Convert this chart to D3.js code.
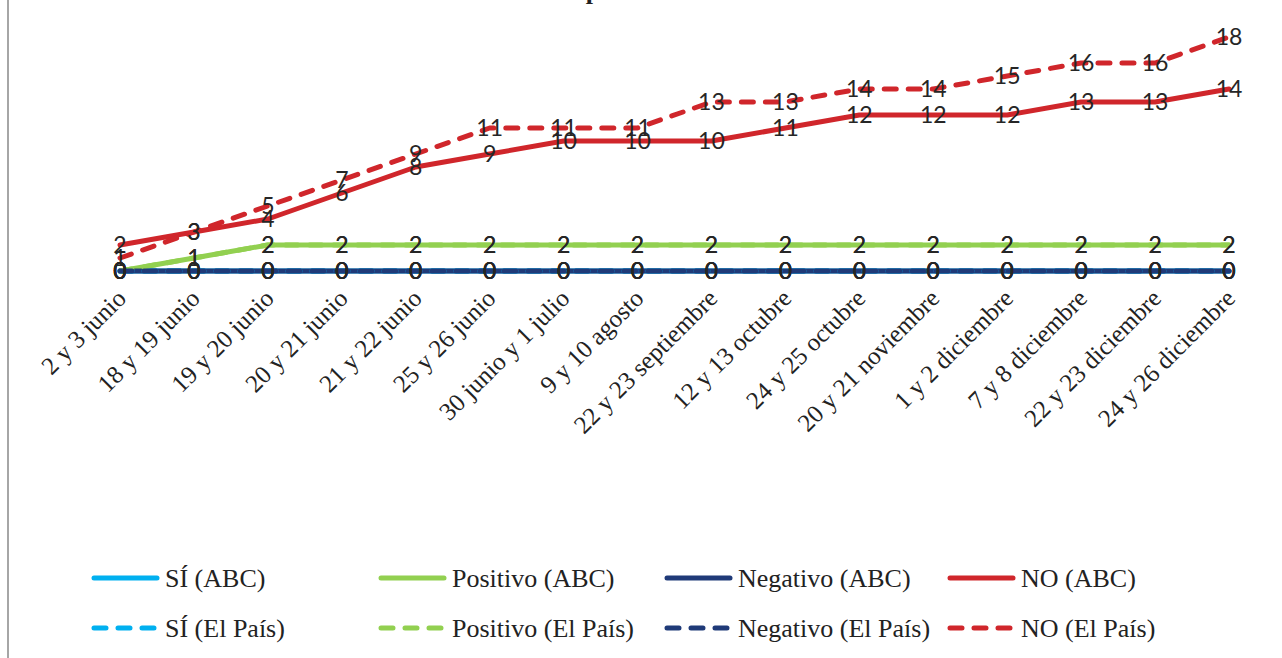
<!DOCTYPE html>
<html><head><meta charset="utf-8">
<script src="https://cdn.jsdelivr.net/npm/d3@7"></script>
<style>html,body{margin:0;padding:0;background:#fff;overflow:hidden}
.serif{font-family:"Liberation Serif","Times New Roman","DejaVu Serif",serif}
</style>
</head><body>
<svg id="chart" width="1282" height="658"></svg>
<script>
const categories = ["2 y 3 junio","18 y 19 junio","19 y 20 junio","20 y 21 junio","21 y 22 junio","25 y 26 junio","30 junio y 1 julio","9 y 10 agosto","22 y 23 septiembre","12 y 13 octubre","24 y 25 octubre","20 y 21 noviembre","1 y 2 diciembre","7 y 8 diciembre","22 y 23 diciembre","24 y 26 diciembre"];
const siABC        = [0,0,0,0,0,0,0,0,0,0,0,0,0,0,0,0];
const positivoABC  = [0,1,2,2,2,2,2,2,2,2,2,2,2,2,2,2];
const negativoABC  = [0,0,0,0,0,0,0,0,0,0,0,0,0,0,0,0];
const noABC        = [2,3,4,6,8,9,10,10,10,11,12,12,12,13,13,14];
const siPais       = [0,0,0,0,0,0,0,0,0,0,0,0,0,0,0,0];
const positivoPais = [0,1,2,2,2,2,2,2,2,2,2,2,2,2,2,2];
const negativoPais = [0,0,0,0,0,0,0,0,0,0,0,0,0,0,0,0];
const noPais       = [1,3,5,7,9,11,11,11,13,13,14,14,15,16,16,18];
const seriesNames  = ["SÍ (ABC)","Positivo (ABC)","Negativo (ABC)","NO (ABC)","SÍ (El País)","Positivo (El País)","Negativo (El País)","NO (El País)"];
const seriesValues = [siABC,positivoABC,negativoABC,noABC,siPais,positivoPais,negativoPais,noPais];
const seriesColors = ["#00b0f0","#92d050","#1f3a78","#d0262b","#00b0f0","#92d050","#1f3a78","#d0262b"];
const seriesDashed = [false,false,false,false,true,true,true,true];
const titleText = "p";

const svg = d3.select("#chart");
svg.append("line").attr("x1",8).attr("x2",8).attr("y1",0).attr("y2",658)
  .attr("stroke","#a6a6a6").attr("stroke-width",2);

svg.append("text").attr("class","serif").attr("x",593).attr("y",-1).attr("text-anchor","middle")
  .attr("font-weight","bold").attr("font-size",26)
  .attr("fill","#222").text(titleText);

const x = d3.scalePoint().domain(categories).range([120,1229]);
const y = d3.scaleLinear().domain([0,20]).range([271,11]);

const xAxis = svg.append("g").attr("transform","translate(0,271)")
  .call(d3.axisBottom(x).tickSize(0).tickPadding(0));
xAxis.attr("font-family",null).attr("font-size",null);
xAxis.select(".domain").remove();
xAxis.selectAll(".tick text")
  .attr("class","serif").attr("font-size",25).attr("fill","#222")
  .attr("text-anchor","end").attr("dy",0).attr("y",0)
  .attr("transform","translate(7,29) rotate(-45)");

const line = d3.line().x((d,i)=>x(categories[i])).y(d=>y(d));
const g = svg.append("g");
seriesValues.forEach((vals,k)=>{
  g.append("path").datum(vals).attr("d",line).attr("fill","none")
    .attr("stroke",seriesColors[k]).attr("stroke-width",5)
    .attr("stroke-linecap","round").attr("stroke-linejoin","round")
    .attr("stroke-dasharray",seriesDashed[k]?"12,12":null);
});
const lg = svg.append("g");
seriesValues.forEach((vals,k)=>{
  lg.selectAll(null).data(vals).enter().append("text")
    .attr("x",(d,i)=>x(categories[i])).attr("y",d=>y(d)+8)
    .attr("text-anchor","middle").attr("font-family","Lato").attr("font-size",23)
    .attr("fill","#262626").text(d=>d);
});

const legX = [90,377,663,946];
const legY = [578,628];
seriesNames.forEach((name,k)=>{
  const cx = legX[k%4], cy = legY[Math.floor(k/4)];
  svg.append("line").attr("x1",cx+4).attr("x2",cx+67).attr("y1",cy).attr("y2",cy)
    .attr("stroke",seriesColors[k]).attr("stroke-width",5).attr("stroke-linecap","round")
    .attr("stroke-dasharray",seriesDashed[k]?"12,12":null);
  svg.append("text").attr("class","serif").attr("x",cx+75).attr("y",cy+9)
    .attr("font-size",26).attr("fill","#222").text(name);
});
</script>
</body></html>
